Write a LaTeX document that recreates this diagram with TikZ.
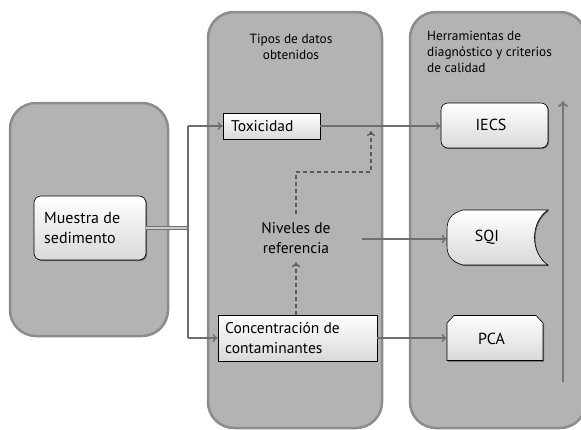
\documentclass[tikz,border=0pt]{standalone}
\usepackage{fontspec}
\setmainfont{PT Sans}
\usetikzlibrary{arrows.meta,shadows}
\definecolor{panelfill}{HTML}{B3B3B3}
\definecolor{paneledge}{HTML}{8C8C8C}
\definecolor{arrowgray}{HTML}{6E6E6E}
\definecolor{dashgray}{HTML}{5A5A5A}
\begin{document}
\begin{tikzpicture}[x=1pt,y=-1pt,
  panel/.style={fill=panelfill,draw=paneledge,line width=2.5pt,rounded corners=26pt},
  boxbase/.style={draw=black,line width=0.6pt,top color=white,bottom color=black!15,
     drop shadow={shadow xshift=1pt,shadow yshift=-1pt,opacity=0.45,fill=black},
     inner sep=0pt},
  lbl/.style={inner sep=0pt,font=\fontsize{15.5}{19.5}\selectfont},
  flow/.style={draw=arrowgray,line width=1.3pt,-{To[length=5pt,width=8pt]}},
  dashflow/.style={draw=dashgray,line width=1.3pt,dash pattern=on 4pt off 3pt,-{To[length=5pt,width=8pt]}},
  title/.style={font=\fontsize{13.3}{16}\selectfont,inner sep=0pt}
]
\useasboundingbox (0,0) rectangle (581,429);
% panels
\path[panel] (10,103) rectangle (168,336);
\path[panel] (208,12) rectangle (382,428);
\path[panel] (410,12) rectangle (586,428);
% titles
\node[title,align=center] (t2) at (291,47) {Tipos de datos\\obtenidos};
\node[title,align=left,anchor=north west] (t3) at (427,31) {Herramientas de\\diagnóstico y criterios\\de calidad};
% boxes
\node[boxbase,rounded corners=7pt,minimum width=112pt,minimum height=64pt] (mu) at (90,228) {};
\node[lbl,anchor=west,align=left,font=\fontsize{16}{20}\selectfont] (mut) at (44,228) {Muestra de\\sedimento};
\node[boxbase,minimum width=97pt,minimum height=26pt] (tox) at (271.5,126) {};
\node[lbl,anchor=west] (toxt) at (231,126) {Toxicidad};
\node[boxbase,minimum width=159pt,minimum height=46pt] (conc) at (297.5,338) {};
\node[lbl,anchor=west,align=left] (conct) at (225,338) {Concentración de\\contaminantes};
\node[lbl,align=center,minimum height=48pt] (niv) at (296,238) {Niveles de\\referencia};
\node[boxbase,rounded corners=7pt,minimum width=107pt,minimum height=45pt] (iecs) at (494.5,125.5) {};
\node[lbl,font=\fontsize{16}{20}\selectfont] (iecst) at (491,125) {IECS};
% SQI shape
\node[inner sep=0pt,minimum width=101pt,minimum height=55pt] (sqi) at (497.5,237.5) {};
\path[draw=black,line width=0.6pt,top color=white,bottom color=black!15,
     drop shadow={shadow xshift=1pt,shadow yshift=-1pt,opacity=0.45,fill=black}]
  (463,210) -- (548,210) .. controls (530,222) and (530,253) .. (548,265)
  -- (463,265) .. controls (452,262) and (447,256) .. (447,246)
  -- (447,229) .. controls (447,219) and (452,213) .. (463,210) -- cycle;
\node[lbl,font=\fontsize{16}{20}\selectfont] (sqit) at (487,237) {SQI};
% PCA shape
\node[inner sep=0pt,minimum width=96pt,minimum height=45pt] (pca) at (495,338) {};
\path[draw=black,line width=0.6pt,top color=white,bottom color=black!15,
     drop shadow={shadow xshift=1pt,shadow yshift=-1pt,opacity=0.45,fill=black}]
  (447,323) -- (454,315.5) -- (536,315.5) -- (543,323) -- (543,360.5) -- (447,360.5) -- cycle;
\node[lbl,font=\fontsize{16}{20}\selectfont] (pcat) at (491.5,338.5) {PCA};
% connectors
\coordinate (j) at (188,228);
\coordinate (jt) at (188,126);
\coordinate (jb) at (188,338);
\draw[draw=arrowgray,line width=1.3pt,double=black!20,double distance=1.4pt] (mu.east) -- (j);
\draw[draw=arrowgray,line width=1.3pt] (jt) -- (jb);
\draw[flow] (jt) -- (tox.west);
\draw[flow] (jb) -- (conc.west);
\draw[flow] (tox.east) -- (tox.east -| iecs.west);
\coordinate (ns) at (362,239);
\draw[flow] (ns) -- (ns -| sqi.west);
\draw[flow] (conc.east) -- (conc.east -| pca.west);
\draw[dashflow] (conc.north -| niv.south) -- (niv.south);
\coordinate (bend) at (371,172);
\coordinate (tl) at (371,131);
\draw[dashflow] (niv.north) |- (bend) -- (tl);
\coordinate (ra) at (563,382);
\coordinate (rb) at (563,101);
\draw[draw=paneledge!85!black,line width=2pt,-{To[length=6pt,width=10pt]}] (ra) -- (rb);
\end{tikzpicture}
\end{document}
